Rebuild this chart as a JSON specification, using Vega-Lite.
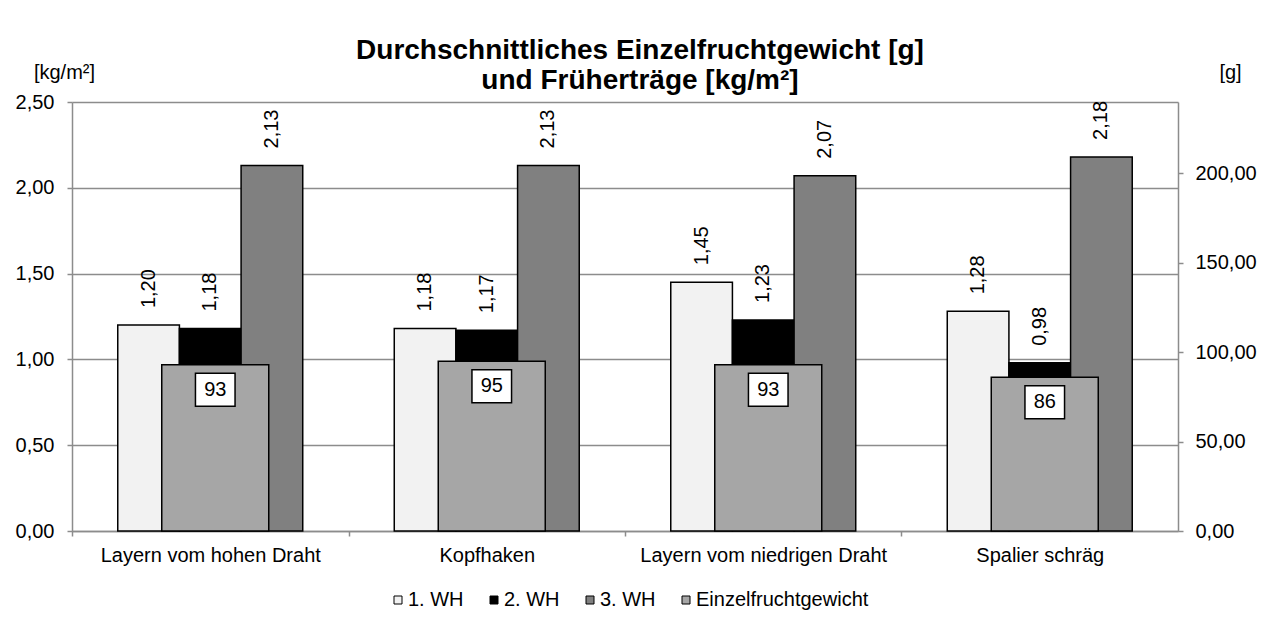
{
  "$schema": "https://vega.github.io/schema/vega-lite/v6.json",
  "width": 1106,
  "height": 429,
  "autosize": {"type": "none"},
  "padding": {"left": 72, "top": 102, "right": 85, "bottom": 86},
  "background": "white",
  "title": {
    "text": ["Durchschnittliches Einzelfruchtgewicht [g]", "und Früherträge [kg/m²]"],
    "font": "Liberation Sans",
    "fontSize": 28,
    "fontWeight": "bold",
    "color": "black",
    "anchor": "middle",
    "dx": 15,
    "offset": -33,
    "lineHeight": 30
  },
  "config": {
    "locale": {"number": {"decimal": ",", "thousands": ".", "grouping": [3], "currency": ["", " €"]}},
    "font": "Liberation Sans",
    "view": {"stroke": null},
    "axis": {
      "labelFont": "Liberation Sans",
      "labelFontSize": 20,
      "labelColor": "black",
      "labelLimit": 0,
      "titleFont": "Liberation Sans",
      "titleFontSize": 20,
      "titleFontWeight": "normal",
      "titleColor": "black",
      "domainColor": "#8c8c8c",
      "domainWidth": 1.5,
      "tickColor": "#8c8c8c",
      "tickWidth": 1.5,
      "tickSize": 5,
      "gridColor": "#8c8c8c",
      "gridWidth": 1.5
    }
  },
  "data": {
    "values": [
      {"kategorie": "Layern vom hohen Draht", "serie": "1. WH", "wert": 1.20},
      {"kategorie": "Layern vom hohen Draht", "serie": "2. WH", "wert": 1.18},
      {"kategorie": "Layern vom hohen Draht", "serie": "3. WH", "wert": 2.13},
      {"kategorie": "Kopfhaken", "serie": "1. WH", "wert": 1.18},
      {"kategorie": "Kopfhaken", "serie": "2. WH", "wert": 1.17},
      {"kategorie": "Kopfhaken", "serie": "3. WH", "wert": 2.13},
      {"kategorie": "Layern vom niedrigen Draht", "serie": "1. WH", "wert": 1.45},
      {"kategorie": "Layern vom niedrigen Draht", "serie": "2. WH", "wert": 1.23},
      {"kategorie": "Layern vom niedrigen Draht", "serie": "3. WH", "wert": 2.07},
      {"kategorie": "Spalier schräg", "serie": "1. WH", "wert": 1.28},
      {"kategorie": "Spalier schräg", "serie": "2. WH", "wert": 0.98},
      {"kategorie": "Spalier schräg", "serie": "3. WH", "wert": 2.18},
      {"kategorie": "Layern vom hohen Draht", "serie": "Einzelfruchtgewicht", "gewicht": 93},
      {"kategorie": "Kopfhaken", "serie": "Einzelfruchtgewicht", "gewicht": 95},
      {"kategorie": "Layern vom niedrigen Draht", "serie": "Einzelfruchtgewicht", "gewicht": 93},
      {"kategorie": "Spalier schräg", "serie": "Einzelfruchtgewicht", "gewicht": 86}
    ]
  },
  "encoding": {
    "x": {
      "field": "kategorie",
      "type": "nominal",
      "sort": null,
      "scale": {"paddingInner": 0.331, "paddingOuter": 0.1655},
      "axis": {
        "title": null,
        "labelAngle": 0,
        "labelPadding": 9,
        "tickOffset": -138.25,
        "labelOffset": 138.25,
        "labelLimit": 0,
        "domainColor": "#8c8c8c"
      }
    }
  },
  "layer": [
    {
      "transform": [{"filter": "datum.serie !== 'Einzelfruchtgewicht'"}],
      "encoding": {
        "y": {
          "field": "wert",
          "type": "quantitative",
          "scale": {"domain": [0, 2.5], "nice": false},
          "axis": {
            "values": [0, 0.5, 1, 1.5, 2, 2.5],
            "format": ".2f",
            "orient": "left",
            "title": "[kg/m²]",
            "titleAngle": 0,
            "titleAlign": "center",
            "titleBaseline": "middle",
            "titleX": -8,
            "titleY": -30,
            "labelPadding": 13,
            "grid": true
          }
        },
        "xOffset": {
          "field": "serie",
          "type": "nominal",
          "scale": {"domain": ["1. WH", "2. WH", "3. WH"], "paddingInner": 0, "paddingOuter": 0}
        }
      },
      "layer": [
        {
          "mark": {"type": "bar", "stroke": "black", "strokeWidth": 1.5},
          "encoding": {
            "color": {
              "field": "serie",
              "type": "nominal",
              "scale": {
                "domain": ["1. WH", "2. WH", "3. WH", "Einzelfruchtgewicht"],
                "range": ["#f2f2f2", "#000000", "#808080", "#a6a6a6"]
              },
              "legend": {
                "title": null,
                "orient": "none",
                "direction": "horizontal",
                "legendX": 316,
                "legendY": 488,
                "symbolType": "square",
                "symbolSize": 64,
                "symbolStrokeColor": "black",
                "symbolStrokeWidth": 1,
                "labelFont": "Liberation Sans",
                "labelFontSize": 20,
                "labelColor": "black",
                "labelLimit": 0,
                "labelOffset": 0,
                "columnPadding": 20
              }
            }
          }
        },
        {
          "mark": {
            "type": "text",
            "angle": 270,
            "align": "left",
            "baseline": "middle",
            "dx": 17,
            "font": "Liberation Sans",
            "fontSize": 20,
            "color": "black"
          },
          "encoding": {
            "text": {"field": "wert", "type": "quantitative", "format": ".2f"}
          }
        }
      ]
    },
    {
      "transform": [{"filter": "datum.serie === 'Einzelfruchtgewicht'"}],
      "encoding": {
        "y": {
          "field": "gewicht",
          "type": "quantitative",
          "scale": {"domain": [0, 240], "nice": false},
          "axis": {
            "values": [0, 50, 100, 150, 200],
            "format": ".2f",
            "orient": "right",
            "title": "[g]",
            "titleAngle": 0,
            "titleAlign": "center",
            "titleBaseline": "middle",
            "titleX": 52,
            "titleY": -30,
            "labelPadding": 12,
            "grid": false
          }
        }
      },
      "layer": [
        {
          "mark": {"type": "bar", "width": 107, "xOffset": 5, "stroke": "black", "strokeWidth": 1.5},
          "encoding": {
            "color": {
              "field": "serie",
              "type": "nominal",
              "scale": {
                "domain": ["1. WH", "2. WH", "3. WH", "Einzelfruchtgewicht"],
                "range": ["#f2f2f2", "#000000", "#808080", "#a6a6a6"]
              }
            }
          }
        },
        {
          "mark": {
            "type": "point",
            "shape": "M-1.2,-1H1.2V1H-1.2Z",
            "size": 1089,
            "filled": true,
            "fill": "white",
            "stroke": "black",
            "strokeWidth": 1.5,
            "opacity": 1,
            "xOffset": 5,
            "yOffset": 25
          },
          "encoding": {}
        },
        {
          "mark": {
            "type": "text",
            "align": "center",
            "baseline": "middle",
            "xOffset": 5,
            "yOffset": 25,
            "font": "Liberation Sans",
            "fontSize": 20,
            "color": "black"
          },
          "encoding": {
            "text": {"field": "gewicht", "type": "quantitative", "format": ".0f"}
          }
        }
      ]
    }
  ],
  "resolve": {"scale": {"y": "independent"}}
}
